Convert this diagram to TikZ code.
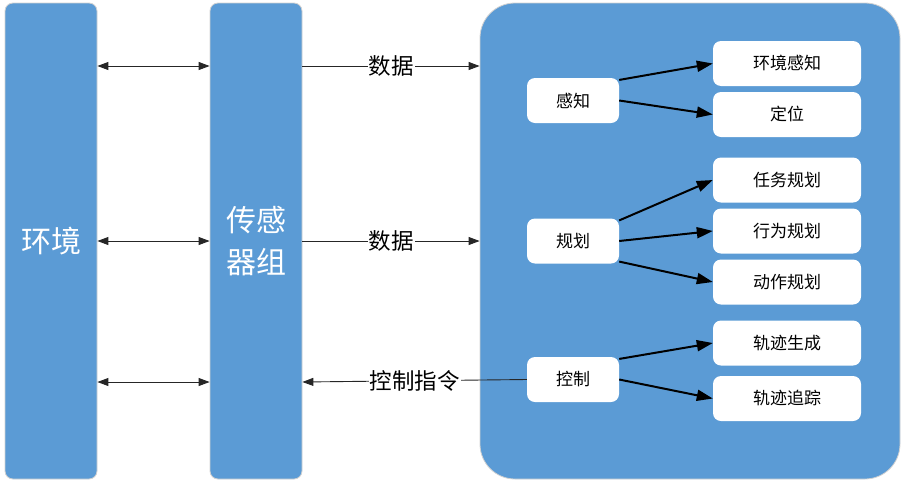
\documentclass[tikz,border=0pt]{standalone}
\usepackage{fontspec}
\setmainfont{Noto Sans CJK SC}
\usetikzlibrary{arrows.meta}
\definecolor{panelblue}{HTML}{5B9BD5}
\begin{document}
\begin{tikzpicture}[x=1pt,y=-1pt,
  bigbox/.style={fill=panelblue, draw=black!18, line width=0.8pt, rounded corners=8pt, text=white,
    font=\fontsize{30}{42}\selectfont, align=center, inner sep=0pt},
  panelbox/.style={fill=panelblue, draw=black!18, line width=0.8pt, rounded corners=35pt, inner sep=0pt},
  smallbox/.style={fill=white, rounded corners=8pt, minimum width=92pt, minimum height=45pt,
    inner sep=0pt, font=\fontsize{17}{20}\selectfont, text=black},
  widebox/.style={smallbox, minimum width=148pt},
  biarrow/.style={line width=0.9pt, black!85, {Triangle[length=11pt,width=8pt]}-{Triangle[length=11pt,width=8pt]}},
  onearrow/.style={line width=0.9pt, black!85, -{Triangle[length=11pt,width=8pt]}},
  flowlabel/.style={fill=white, inner sep=1pt, font=\fontsize{22.5}{25}\selectfont, text=black},
  thickarrow/.style={line width=2pt, black, -{Triangle[length=16pt,width=11pt]}}
]
\useasboundingbox (0,0) rectangle (905,488);

\node[bigbox, minimum width=92pt, minimum height=476pt] (env) at (51,241) {环境};
\node[bigbox, minimum width=92pt, minimum height=476pt] (sen) at (256,241) {传感\\器组};
\node[panelbox, minimum width=420pt, minimum height=476pt] (brain) at (690,241) {};

\coordinate (r1) at (0,66);
\coordinate (r2) at (0,241);
\coordinate (r3) at (0,382);

\draw[biarrow] (env.east|-r1) -- (sen.west|-r1);
\draw[biarrow] (env.east|-r2) -- (sen.west|-r2);
\draw[biarrow] (env.east|-r3) -- (sen.west|-r3);

% inner boxes
\node[smallbox] (gz) at (573,100.5) {感知};
\node[smallbox] (gh) at (573,241) {规划};
\node[smallbox] (kz) at (573,379.5) {控制};

\node[widebox] (hjgz) at (787,63.5) {环境感知};
\node[widebox] (dw) at (787,114.5) {定位};
\node[widebox] (rwgh) at (787,180) {任务规划};
\node[widebox] (xwgh) at (787,231) {行为规划};
\node[widebox] (dzgh) at (787,282) {动作规划};
\node[widebox] (gjsc) at (787,343) {轨迹生成};
\node[widebox] (gjzz) at (787,398.5) {轨迹追踪};

\draw[onearrow] (sen.east|-r1) -- node[flowlabel] {数据} (brain.west|-r1);
\draw[onearrow] (sen.east|-r2) -- node[flowlabel] {数据} (brain.west|-r2);
\draw[onearrow] (kz.west) -- node[flowlabel] {控制指令} (sen.east|-r3);

\draw[thickarrow] (gz.24) -- (hjgz.west);
\draw[thickarrow] (gz.east) -- (dw.west);
\draw[thickarrow] (gh.24) -- (rwgh.west);
\draw[thickarrow] (gh.east) -- (xwgh.west);
\draw[thickarrow] (gh.-24) -- (dzgh.west);
\draw[thickarrow] (kz.24) -- (gjsc.west);
\draw[thickarrow] (kz.east) -- (gjzz.west);
\end{tikzpicture}
\end{document}
